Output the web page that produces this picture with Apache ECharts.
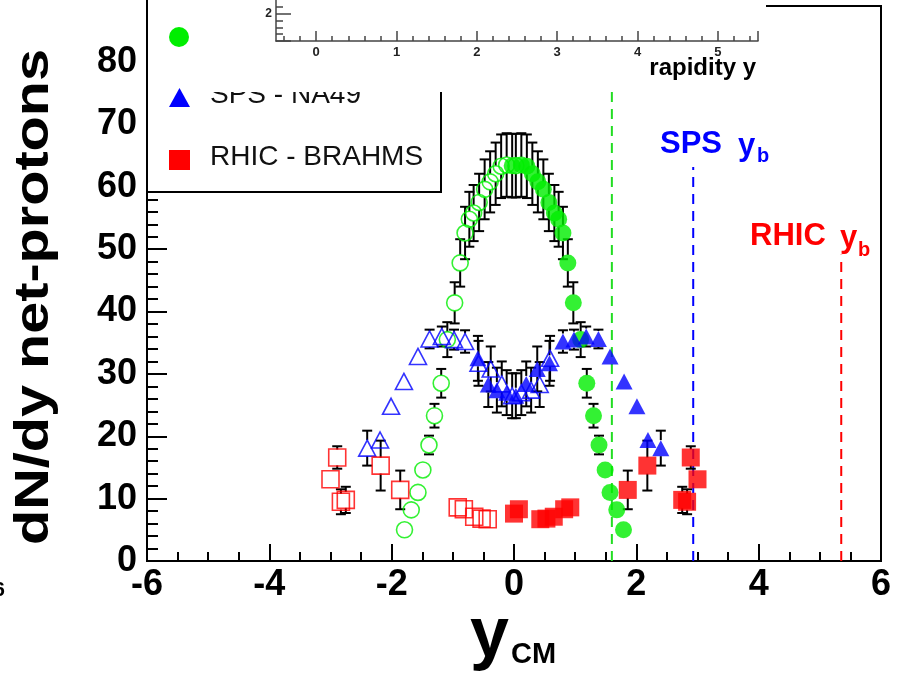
<!DOCTYPE html>
<html>
<head>
<meta charset="utf-8">
<script src="https://cdn.jsdelivr.net/npm/echarts@6/dist/echarts.min.js"></script>
<style>
  html, body { margin: 0; padding: 0; background: #fff; }
  #chart { width: 901px; height: 673px; }
</style>
</head>
<body>
<div id="chart"></div>
<script>
// AGS (E917) net-proton dN/dy: measured points and their reflection about y_CM = 0
const agsRap = [-0.03, 0.12, 0.21, 0.30, 0.39, 0.48, 0.57, 0.66, 0.73, 0.80, 0.88, 0.97, 1.09, 1.19, 1.30, 1.39, 1.49, 1.57, 1.68, 1.79];
const agsDn  = [63.4, 63.5, 63.3, 62.1, 60.8, 59.6, 57.5, 55.8, 54.8, 52.6, 47.8, 41.4, 35.5, 28.5, 23.3, 18.6, 14.6, 11.0, 8.2, 5.0];
const agsErr = [5.1, 5.1, 5.1, 5.0, 4.9, 4.8, 4.6, 4.5, 4.4, 4.2, 3.8, 3.3, 2.8, 2.3, 1.9, 1.5, 1.2, 0.9, 0.7, 0.4];
const agsReflRap = [0.03, -0.12, -0.21, -0.30, -0.39, -0.48, -0.57, -0.66, -0.73, -0.80, -0.88, -0.97, -1.09, -1.19, -1.30, -1.39, -1.49, -1.57, -1.68, -1.79];
const agsReflDn  = [63.4, 63.5, 63.3, 62.1, 60.8, 59.6, 57.5, 55.8, 54.8, 52.6, 47.8, 41.4, 35.5, 28.5, 23.3, 18.6, 14.6, 11.0, 8.2, 5.0];
const agsReflErr = [5.1, 5.1, 5.1, 5.0, 4.9, 4.8, 4.6, 4.5, 4.4, 4.2, 3.8, 3.3, 2.8, 2.3, 1.9, 1.5, 1.2, 0.9, 0.7, 0.4];

// SPS NA49
const na49Rap = [-0.59, -0.42, -0.28, -0.12, 0.03, 0.20, 0.38, 0.58, 0.80, 0.98, 1.18, 1.38, 1.57, 1.80, 2.01, 2.19, 2.40];
const na49Dn  = [32.5, 28.3, 27.4, 27.0, 26.5, 28.4, 30.8, 31.7, 35.2, 35.5, 36.0, 35.6, 32.8, 28.8, 24.8, 19.4, 18.1];
const na49Err = [3.6, 3.6, 3.6, 3.6, 3.6, 3.6, 3.6, 3.6, 1.8, 1.6, 1.6, 1.5, 1.2, 0.6, 0.6, 1.0, 2.8];
const na49ReflRap = [0.59, 0.42, 0.28, 0.12, -0.03, -0.20, -0.38, -0.58, -0.80, -0.98, -1.18, -1.38, -1.57, -1.80, -2.01, -2.19, -2.40];
const na49ReflDn  = [32.5, 28.3, 27.4, 27.0, 26.5, 28.4, 30.8, 31.7, 35.2, 35.5, 36.0, 35.6, 32.8, 28.8, 24.8, 19.4, 18.1];
const na49ReflErr = [3.6, 3.6, 3.6, 3.6, 3.6, 3.6, 3.6, 3.6, 1.8, 1.6, 1.6, 1.5, 1.2, 0.6, 0.6, 1.0, 2.8];

// RHIC BRAHMS
const brahmsRap = [0.00, 0.08, 0.43, 0.53, 0.65, 0.82, 0.92, 1.86, 2.18, 2.75, 2.83, 2.89, 3.00];
const brahmsDn  = [7.6, 8.3, 6.7, 6.8, 7.1, 8.3, 8.6, 11.4, 15.3, 9.8, 9.5, 16.6, 13.1];
const brahmsErr = [0.8, 0.8, 0.5, 0.5, 0.5, 0.6, 0.6, 3.1, 4.0, 2.1, 2.0, 1.8, 0.9];
const brahmsReflRap = [-3.00, -2.89, -2.83, -2.75, -2.18, -1.86, -0.92, -0.82, -0.65, -0.53, -0.43];
const brahmsReflDn  = [13.1, 16.6, 9.5, 9.8, 15.3, 11.4, 8.6, 8.3, 7.1, 6.8, 6.7];
const brahmsReflErr = [0.9, 1.8, 2.0, 2.1, 4.0, 3.1, 0.6, 0.6, 0.5, 0.5, 0.5];

// Beam rapidities (dashed markers) and the height each dashed line reaches
const beamRap  = [1.60, 2.93, 5.35];
const beamTop  = [85, 63.2, 49.1];
const beamColors = ['#22dd22', '#0000ff', '#ff0000'];

// Axis ticks
const mainXTicks = [-6, -4, -2, 0, 2, 4, 6];
const insetXLabels = [0, 1, 2, 3, 4, 5];
const insetXMajor = [0, 1, 2, 3, 4, 5, 5.5];
const insetXMinor = [-0.4, -0.2, 0.2, 0.4, 0.6, 0.8, 1.2, 1.4, 1.6, 1.8, 2.2, 2.4, 2.6, 2.8, 3.2, 3.4, 3.6, 3.8, 4.2, 4.4, 4.6, 4.8, 5.2, 5.4];
const insetYLabels = [2];
const insetYMajor = [0, 2];
const insetYMinor = [0.5, 1, 1.5, 2.5];

const FONT = '"Liberation Sans", Arial, Helvetica, sans-serif';
const GREEN = '#00ee00', BLUE = '#0000ff', RED = '#ff0000';

const pairs = (xs, ys) => xs.map((x, i) => [x, ys[i]]);
const triples = (xs, ys, es) => xs.map((x, i) => [x, ys[i], es[i]]);

// vertical error bars with end caps, left open inside the marker
function renderErr(params, api) {
  const x = api.value(0), y = api.value(1), e = api.value(2);
  const c = api.coord([x, y]);
  const top = api.coord([x, y + e])[1];
  const bot = api.coord([x, y - e])[1];
  const gap = 8, cap = 5;
  const st = { stroke: '#000', lineWidth: 2 };
  const ch = [];
  if (c[1] - top > gap) {
    ch.push({ type: 'line', shape: { x1: c[0], y1: c[1] - gap, x2: c[0], y2: top }, style: st });
    ch.push({ type: 'line', shape: { x1: c[0] - cap, y1: top, x2: c[0] + cap, y2: top }, style: st });
  }
  if (bot - c[1] > gap) {
    ch.push({ type: 'line', shape: { x1: c[0], y1: c[1] + gap, x2: c[0], y2: bot }, style: st });
    ch.push({ type: 'line', shape: { x1: c[0] - cap, y1: bot, x2: c[0] + cap, y2: bot }, style: st });
  }
  return { type: 'group', children: ch };
}

function errSeries(xs, ys, es) {
  return {
    type: 'custom', xAxisIndex: 0, yAxisIndex: 0, z: 3,
    renderItem: renderErr, encode: { x: 0, y: 1 },
    data: triples(xs, ys, es), silent: true
  };
}
function markerSeries(xs, ys, symbol, size, color, open) {
  return {
    type: 'scatter', xAxisIndex: 0, yAxisIndex: 0, z: 3,
    symbol: symbol, symbolSize: size,
    itemStyle: open
      ? { color: 'rgba(255,255,255,0)', borderColor: color, borderWidth: 1.6 }
      : { color: color, borderWidth: 0 },
    data: pairs(xs, ys), silent: true
  };
}

const series = [];
beamRap.forEach((r, i) => {
  series.push({
    type: 'line', xAxisIndex: 0, yAxisIndex: 0, z: 2, symbol: 'none', silent: true,
    lineStyle: { color: beamColors[i], width: 2, type: [10, 7] },
    data: [[r, 0], [r, beamTop[i]]]
  });
});
series.push(errSeries(agsReflRap, agsReflDn, agsReflErr));
series.push(markerSeries(agsReflRap, agsReflDn, 'circle', 16, GREEN, true));
series.push(errSeries(agsRap, agsDn, agsErr));
series.push(markerSeries(agsRap, agsDn, 'circle', 17, GREEN, false));
series.push(errSeries(na49ReflRap, na49ReflDn, na49ReflErr));
series.push(markerSeries(na49ReflRap, na49ReflDn, 'triangle', [17, 16], BLUE, true));
series.push(errSeries(na49Rap, na49Dn, na49Err));
series.push(markerSeries(na49Rap, na49Dn, 'triangle', [17, 16], BLUE, false));
series.push(errSeries(brahmsReflRap, brahmsReflDn, brahmsReflErr));
series.push(markerSeries(brahmsReflRap, brahmsReflDn, 'rect', 17, RED, true));
series.push(errSeries(brahmsRap, brahmsDn, brahmsErr));
series.push(markerSeries(brahmsRap, brahmsDn, 'rect', 18, RED, false));

const axisBlack = { color: '#000', width: 2 };
const insetGrey = { color: '#444', width: 1.5 };

const chart = echarts.init(document.getElementById('chart'), null, { renderer: 'canvas' });
chart.setOption({
  animation: false,
  backgroundColor: '#fff',
  grid: [
    { left: 147, right: 20, top: 6, bottom: 112, show: true, borderColor: '#000', borderWidth: 2, backgroundColor: 'rgba(0,0,0,0)' },
    { left: 276, right: 143, top: 0, bottom: 632, show: false, z: 60 }
  ],
  xAxis: [
    {
      gridIndex: 0, type: 'value', min: -6, max: 6, interval: 2,
      axisLine: { onZero: false, lineStyle: axisBlack },
      axisTick: { inside: true, length: 17, lineStyle: axisBlack },
      minorTick: { show: true, splitNumber: 4, length: 9, lineStyle: axisBlack },
      splitLine: { show: false },
      axisLabel: { fontFamily: FONT, fontWeight: 'bold', fontSize: 36, color: '#000', margin: 6,
        customValues: mainXTicks }
    },
    {
      gridIndex: 1, type: 'value', position: 'bottom', min: -0.5, max: 5.5, z: 60,
      axisLine: { onZero: false, lineStyle: insetGrey },
      axisTick: { inside: true, length: 10, lineStyle: insetGrey, customValues: insetXMajor },
      splitLine: { show: false },
      axisLabel: { fontFamily: FONT, fontWeight: 'bold', fontSize: 13, color: '#222', margin: 5,
        customValues: insetXLabels }
    },
    {
      gridIndex: 1, type: 'value', position: 'bottom', min: -0.5, max: 5.5, z: 60,
      axisLine: { show: false, onZero: false },
      axisTick: { inside: true, length: 5, lineStyle: insetGrey, customValues: insetXMinor },
      splitLine: { show: false },
      axisLabel: { show: false }
    }
  ],
  yAxis: [
    {
      gridIndex: 0, type: 'value', min: 0, max: 89, interval: 10,
      axisLine: { onZero: false, lineStyle: axisBlack },
      axisTick: { inside: true, length: 20, lineStyle: axisBlack },
      minorTick: { show: true, splitNumber: 5, length: 11, lineStyle: axisBlack },
      splitLine: { show: false },
      axisLabel: { fontFamily: FONT, fontWeight: 'bold', fontSize: 36, color: '#000', margin: 10,
        showMaxLabel: false }
    },
    {
      gridIndex: 1, type: 'value', position: 'left', min: 0, max: 3, z: 60,
      axisLine: { onZero: false, lineStyle: insetGrey },
      axisTick: { inside: true, length: 15, lineStyle: insetGrey, customValues: insetYMajor },
      splitLine: { show: false },
      axisLabel: { fontFamily: FONT, fontWeight: 'bold', fontSize: 12, color: '#222', margin: 4,
        customValues: insetYLabels }
    },
    {
      gridIndex: 1, type: 'value', position: 'left', min: 0, max: 3, z: 60,
      axisLine: { show: false, onZero: false },
      axisTick: { inside: true, length: 7, lineStyle: insetGrey, customValues: insetYMinor },
      splitLine: { show: false },
      axisLabel: { show: false }
    }
  ],
  series: series,
  graphic: {
    elements: [
      // legend box
      { type: 'rect', z: 40, shape: { x: 147, y: -10, width: 294, height: 202 },
        style: { fill: '#fff', stroke: '#000', lineWidth: 2 } },
      { type: 'circle', z: 41, shape: { cx: 179, cy: 37, r: 10 }, style: { fill: GREEN } },
      { type: 'polygon', z: 41, shape: { points: [[169, 107], [190, 107], [179.5, 88]] }, style: { fill: BLUE } },
      { type: 'rect', z: 41, shape: { x: 169, y: 150, width: 21, height: 20 }, style: { fill: RED } },
      { type: 'text', z: 41, x: 210, y: 37, style: { text: 'AGS - E917', font: '28px ' + FONT, fill: '#111', verticalAlign: 'middle' } },
      { type: 'text', z: 41, x: 210, y: 95, style: { text: 'SPS - NA49', font: '28px ' + FONT, fill: '#111', verticalAlign: 'middle' } },
      { type: 'text', z: 41, x: 210, y: 157, style: { text: 'RHIC - BRAHMS', font: '28px ' + FONT, fill: '#111', verticalAlign: 'middle' } },
      // inset pad
      { type: 'rect', z: 50, shape: { x: 208, y: -5, width: 558, height: 97 }, style: { fill: '#fff' } },
      { type: 'text', z: 61, x: 756, y: 68, style: { text: 'rapidity y', font: 'bold 24px ' + FONT, fill: '#000', align: 'right', verticalAlign: 'middle' } },
      // axis titles
      { type: 'text', z: 30, x: 35, y: 297, rotation: Math.PI / 2, scaleX: 1.2,
        style: { text: 'dN/dy net-protons', font: 'bold 48px ' + FONT, fill: '#000', align: 'center', verticalAlign: 'middle' } },
      { type: 'text', z: 30, x: 470, y: 637, style: { text: 'y', font: 'bold 70px ' + FONT, fill: '#000', verticalAlign: 'middle' } },
      { type: 'text', z: 30, x: 511, y: 655, style: { text: 'CM', font: 'bold 29px ' + FONT, fill: '#000', verticalAlign: 'middle' } },
      // beam rapidity labels
      { type: 'text', z: 30, x: 660, y: 144, style: { text: 'SPS', font: 'bold 31px ' + FONT, fill: BLUE, verticalAlign: 'middle' } },
      { type: 'text', z: 30, x: 738, y: 146, style: { text: 'y', font: 'bold 31px ' + FONT, fill: BLUE, verticalAlign: 'middle' } },
      { type: 'text', z: 30, x: 757, y: 156, style: { text: 'b', font: 'bold 20px ' + FONT, fill: BLUE, verticalAlign: 'middle' } },
      { type: 'text', z: 30, x: 750, y: 236, style: { text: 'RHIC', font: 'bold 31px ' + FONT, fill: RED, verticalAlign: 'middle' } },
      { type: 'text', z: 30, x: 840, y: 238, style: { text: 'y', font: 'bold 31px ' + FONT, fill: RED, verticalAlign: 'middle' } },
      { type: 'text', z: 30, x: 858, y: 250, style: { text: 'b', font: 'bold 20px ' + FONT, fill: RED, verticalAlign: 'middle' } },
      // neighbouring panel's label at the left edge
      { type: 'text', z: 30, x: 5, y: 590, style: { text: '6', font: 'bold 21px ' + FONT, fill: '#000', align: 'right', verticalAlign: 'middle' } }
    ]
  }
});
</script>
</body>
</html>
